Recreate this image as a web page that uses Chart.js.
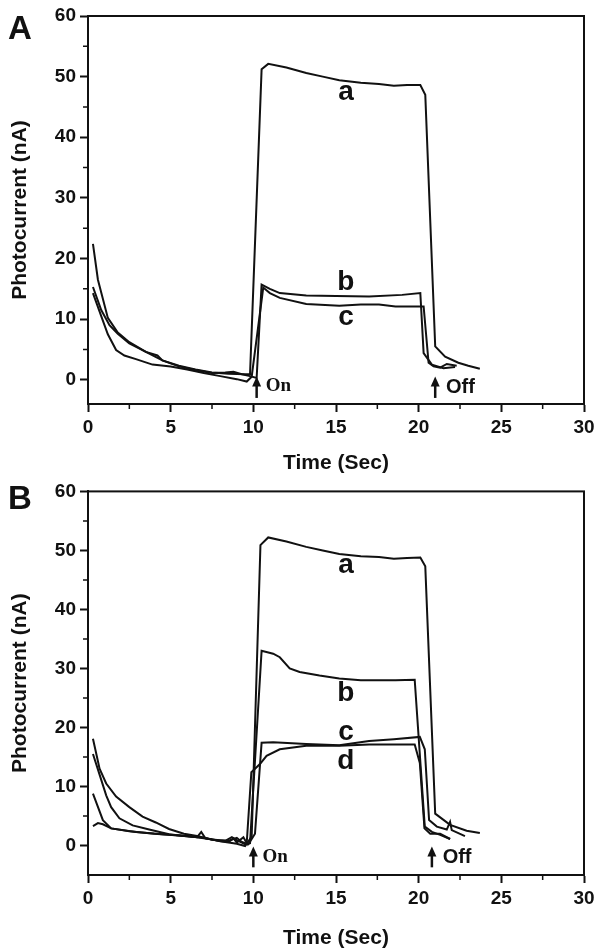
<!DOCTYPE html>
<html>
<head>
<meta charset="utf-8">
<script src="https://cdn.jsdelivr.net/npm/chart.js@4.4.1/dist/chart.umd.min.js"></script>
<style>
  html, body { margin: 0; padding: 0; background: #fff; }
  #wrap { position: relative; width: 602px; height: 951px; }
  canvas { position: absolute; left: 0; }
</style>
</head>
<body>
<div id="wrap">
  <canvas id="panelA" width="602" height="476" style="top:0px"></canvas>
  <canvas id="panelB" width="602" height="475" style="top:476px"></canvas>
</div>
<script>
// ---- data (time in s, photocurrent in nA) ----
const xTicks = [0, 5, 10, 15, 20, 25, 30];
const xMinorTicks = [2.5, 7.5, 12.5, 17.5, 22.5, 27.5];
const yTicks = [0, 10, 20, 30, 40, 50, 60];
const yMinorTicks = [5, 15, 25, 35, 45, 55];

// panel A
const aTimeA = [0.3, 0.6, 1.2, 1.8, 2.5, 3.5, 4.5, 5.5, 6.5, 7.5, 8.5, 9.5, 9.8, 10.5, 10.9, 12.0, 13.2, 14.2, 15.2, 16.5, 17.6, 18.5, 19.3, 20.1, 20.4, 21.0, 21.6, 22.4, 23.0, 23.7];
const aCurrentA = [22.4, 16.5, 10.2, 7.8, 6.2, 4.6, 3.2, 2.3, 1.7, 1.2, 1.0, 0.9, 0.9, 51.2, 52.1, 51.5, 50.6, 50.0, 49.4, 49.0, 48.8, 48.5, 48.6, 48.6, 47.0, 5.5, 3.8, 2.8, 2.3, 1.8];
const bTimeA = [0.3, 0.8, 1.3, 1.8, 2.5, 3.5, 4.2, 4.5, 5.5, 6.5, 7.5, 8.3, 8.8, 9.3, 9.8, 10.2, 10.5, 11.0, 11.6, 13.2, 15.0, 17.0, 19.0, 20.1, 20.3, 20.8, 21.5, 22.2];
const bCurrentA = [15.3, 11.5, 9.0, 7.6, 6.0, 4.6, 4.0, 3.2, 2.2, 1.6, 1.1, 1.2, 1.3, 0.9, 0.6, 0.3, 15.7, 15.0, 14.3, 13.9, 13.8, 13.75, 14.0, 14.3, 4.4, 2.5, 1.9, 2.1];
const cTimeA = [0.3, 0.8, 1.2, 1.7, 2.2, 2.9, 3.9, 5.0, 6.0, 7.0, 8.0, 9.0, 9.6, 9.9, 10.6, 11.0, 11.6, 13.2, 15.2, 16.5, 17.6, 18.6, 20.3, 20.6, 20.9, 21.3, 21.7, 22.3];
const cCurrentA = [14.3, 10.5, 7.5, 4.9, 4.0, 3.4, 2.5, 2.2, 1.7, 1.1, 0.6, 0.1, -0.3, 0.5, 15.2, 14.3, 13.5, 12.5, 12.2, 12.4, 12.4, 12.1, 12.1, 2.8, 2.2, 2.0, 2.6, 2.3];

// panel B
const aTimeB = [0.3, 0.7, 1.1, 1.7, 2.5, 3.3, 4.1, 4.9, 5.8, 6.6, 7.5, 8.3, 9.0, 9.5, 9.9, 10.43, 10.9, 12.0, 13.2, 14.2, 15.2, 16.5, 17.6, 18.5, 19.3, 20.1, 20.4, 21.0, 21.9, 22.9, 23.7];
const aCurrentB = [18.1, 13.0, 10.5, 8.3, 6.5, 4.9, 3.9, 2.8, 2.0, 1.6, 1.0, 0.6, 0.3, -0.1, 1.5, 50.9, 52.2, 51.5, 50.6, 50.0, 49.4, 49.0, 48.9, 48.6, 48.7, 48.8, 47.3, 5.4, 3.5, 2.5, 2.1];
const bTimeB = [0.3, 0.7, 1.1, 1.4, 1.9, 2.7, 3.7, 4.9, 5.8, 6.6, 7.5, 8.3, 8.7, 9.0, 9.5, 9.8, 10.5, 11.2, 11.6, 12.2, 12.8, 14.0, 15.2, 16.5, 17.6, 18.6, 19.76, 20.37, 20.8, 21.3, 21.9];
const bCurrentB = [15.5, 12.0, 8.5, 6.5, 4.6, 3.4, 2.7, 1.9, 1.6, 1.4, 1.0, 0.8, 1.4, 0.9, 0.2, 0.4, 33.0, 32.5, 31.9, 30.0, 29.4, 28.8, 28.3, 28.0, 28.0, 28.0, 28.1, 3.2, 2.3, 1.8, 1.1];
const cTimeB = [0.3, 0.9, 1.4, 2.9, 4.5, 6.0, 6.6, 6.85, 7.1, 7.8, 8.5, 9.0, 9.3, 9.7, 10.1, 10.5, 11.2, 13.2, 15.2, 17.0, 18.5, 20.07, 20.37, 20.63, 21.1, 21.7, 21.9, 22.0, 22.8];
const cCurrentB = [8.8, 4.3, 2.9, 2.3, 1.9, 1.6, 1.4, 2.3, 1.2, 0.9, 0.8, 1.3, 0.6, 0.2, 2.0, 17.4, 17.5, 17.2, 17.0, 17.7, 18.0, 18.4, 16.3, 4.3, 3.2, 2.7, 4.0, 2.6, 1.6];
const dTimeB = [0.3, 0.6, 0.9, 1.4, 2.5, 4.0, 5.5, 7.0, 8.0, 8.5, 8.8, 9.0, 9.4, 9.6, 9.88, 10.4, 10.8, 11.6, 13.2, 15.2, 17.0, 19.76, 20.07, 20.35, 20.7, 21.3, 21.9];
const dCurrentB = [3.3, 3.8, 3.6, 2.9, 2.4, 2.0, 1.7, 1.3, 0.7, 0.6, 1.2, 0.5, 1.4, 0.4, 12.4, 13.8, 15.2, 16.3, 16.9, 16.9, 17.1, 17.1, 14.0, 2.9, 2.0, 2.0, 1.1];

const SANS = '"Liberation Sans", Arial, sans-serif';
const SERIF = '"Liberation Serif", "Times New Roman", serif';
const INK = '#111';

function toPoints(ts, vs) {
  return ts.map((t, i) => ({ x: t, y: vs[i] }));
}

function series(ts, vs) {
  return {
    data: toPoints(ts, vs),
    showLine: true,
    borderColor: INK,
    borderWidth: 2,
    pointRadius: 0,
    tension: 0,
    fill: false
  };
}

// frame, minor ticks, curve letters, on/off arrows, panel letter
const decor = {
  id: 'decor',
  afterDraw(chart, args, opts) {
    const { ctx, chartArea: area } = chart;
    const x = chart.scales.x, y = chart.scales.y;
    ctx.save();
    ctx.strokeStyle = INK;
    ctx.fillStyle = INK;
    ctx.lineWidth = 2;
    ctx.strokeRect(area.left, area.top, area.right - area.left, area.bottom - area.top);

    ctx.lineWidth = 1.5;
    ctx.beginPath();
    xMinorTicks.forEach(v => {
      const px = x.getPixelForValue(v);
      ctx.moveTo(px, area.bottom);
      ctx.lineTo(px, area.bottom + 5);
    });
    yMinorTicks.forEach(v => {
      const py = y.getPixelForValue(v);
      ctx.moveTo(area.left, py);
      ctx.lineTo(area.left - 5, py);
    });
    ctx.stroke();

    ctx.textAlign = 'center';
    ctx.textBaseline = 'middle';
    ctx.font = 'bold 28px ' + SANS;
    opts.curveLabels.forEach(l => {
      ctx.fillText(l.text, x.getPixelForValue(l.t), y.getPixelForValue(l.v));
    });

    opts.arrows.forEach(a => {
      const px = x.getPixelForValue(a.t);
      const y0 = y.getPixelForValue(a.from);
      const y1 = y.getPixelForValue(a.to);
      ctx.lineWidth = 2.5;
      ctx.beginPath();
      ctx.moveTo(px, y0);
      ctx.lineTo(px, y1 + 6);
      ctx.stroke();
      ctx.beginPath();
      ctx.moveTo(px, y1);
      ctx.lineTo(px - 4.5, y1 + 10);
      ctx.lineTo(px + 4.5, y1 + 10);
      ctx.closePath();
      ctx.fill();
      ctx.textAlign = 'left';
      ctx.font = a.serif ? 'bold 19px ' + SERIF : 'bold 20px ' + SANS;
      ctx.fillText(a.text, x.getPixelForValue(a.tx), y.getPixelForValue(a.tv));
    });

    ctx.textAlign = 'center';
    ctx.font = 'bold 33px ' + SANS;
    ctx.fillText(opts.letter, 20, opts.letterY);
    ctx.restore();
  }
};

function makePanel(id, datasets, yMin, padTop, xAxisHeight, xTitlePad, extra) {
  return new Chart(document.getElementById(id), {
    type: 'scatter',
    data: { datasets: datasets },
    plugins: [decor],
    options: {
      responsive: false,
      animation: false,
      devicePixelRatio: 1,
      layout: { padding: { left: 0, right: 18, top: padTop, bottom: 0 } },
      plugins: {
        legend: { display: false },
        tooltip: { enabled: false },
        decor: extra
      },
      scales: {
        x: {
          type: 'linear',
          min: 0,
          max: 30,
          afterBuildTicks: s => { s.ticks = xTicks.map(v => ({ value: v })); },
          afterFit: s => { s.height = xAxisHeight; },
          ticks: { color: INK, font: { family: SANS, size: 19, weight: 'bold' }, padding: 4, maxRotation: 0 },
          grid: { drawOnChartArea: false, tickLength: 8, tickWidth: 2, tickColor: INK },
          border: { display: true, width: 2, color: INK },
          title: { display: true, text: 'Time (Sec)', color: INK, font: { family: SANS, size: 21, weight: 'bold' }, padding: { top: xTitlePad, bottom: 0 } }
        },
        y: {
          type: 'linear',
          min: yMin,
          max: 60,
          afterBuildTicks: s => { s.ticks = yTicks.map(v => ({ value: v })); },
          afterFit: s => { s.width = 88; },
          ticks: { color: INK, font: { family: SANS, size: 19, weight: 'bold' }, padding: 4 },
          grid: { drawOnChartArea: false, tickLength: 8, tickWidth: 2, tickColor: INK },
          border: { display: true, width: 2, color: INK },
          title: { display: true, text: 'Photocurrent (nA)', color: INK, font: { family: SANS, size: 21, weight: 'bold' }, padding: { top: 8, bottom: 0 } }
        }
      }
    }
  });
}

makePanel('panelA',
  [series(aTimeA, aCurrentA), series(bTimeA, bCurrentA), series(cTimeA, cCurrentA)],
  -4, 16, 72, 2,
  {
    letter: 'A', letterY: 30,
    curveLabels: [
      { text: 'a', t: 15.6, v: 47.5 },
      { text: 'b', t: 15.6, v: 16.1 },
      { text: 'c', t: 15.6, v: 10.3 }
    ],
    arrows: [
      { t: 10.2, from: -3.0, to: 0.55, text: 'On', serif: true, tx: 10.75, tv: -1.1 },
      { t: 21.0, from: -3.0, to: 0.55, text: 'Off', serif: false, tx: 21.65, tv: -1.3 }
    ]
  });

makePanel('panelB',
  [series(aTimeB, aCurrentB), series(bTimeB, bCurrentB), series(cTimeB, cCurrentB), series(dTimeB, dCurrentB)],
  -5, 11, 76, 7,
  {
    letter: 'B', letterY: 24,
    curveLabels: [
      { text: 'a', t: 15.6, v: 47.5 },
      { text: 'b', t: 15.6, v: 25.8 },
      { text: 'c', t: 15.6, v: 19.1 },
      { text: 'd', t: 15.6, v: 14.2 }
    ],
    arrows: [
      { t: 10.0, from: -3.7, to: -0.15, text: 'On', serif: true, tx: 10.55, tv: -2.05 },
      { t: 20.8, from: -3.7, to: -0.15, text: 'Off', serif: false, tx: 21.45, tv: -2.1 }
    ]
  });
</script>
</body>
</html>
